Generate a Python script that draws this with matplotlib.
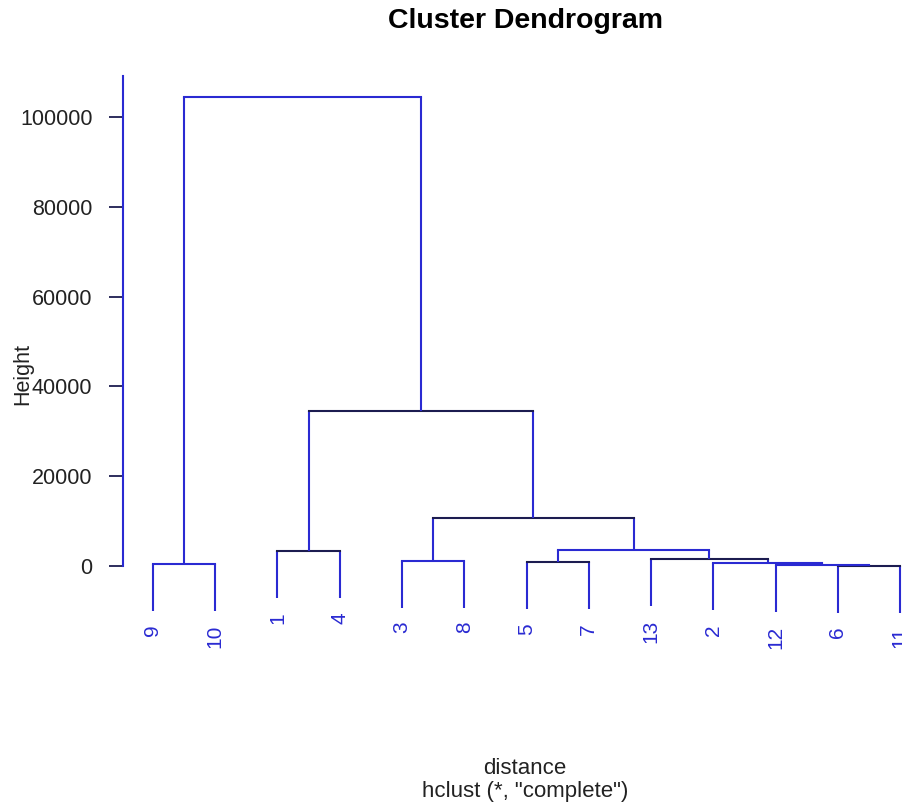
import matplotlib.pyplot as plt

plt.rcParams['font.family'] = ['Liberation Sans', 'DejaVu Sans']

# leaf labels in plotting order (left to right)
leaf_order = ['9', '10', '1', '4', '3', '8', '5', '7', '13', '2', '12', '6', '11']

# merges: (left, right, height); ints refer to earlier merges (0-based)
merges = [
    ('6', '11', 100),
    ('12', 0, 300),
    ('9', '10', 500),
    ('2', 1, 600),
    ('5', '7', 820),
    ('3', '8', 1150),
    ('13', 3, 1480),
    ('1', '4', 3300),
    (4, 6, 3650),
    (5, 8, 10700),
    (7, 9, 34500),
    (2, 10, 104500),
]

yticks = [0, 20000, 40000, 60000, 80000, 100000]

blue = '#2a2ad2'
navy = '#1c1c50'
# colour of the horizontal bar of each merge, as it looks in the picture
bar_colors = [navy, blue, blue, blue, navy, blue, navy, navy, blue, navy, navy, blue]

fig = plt.figure(figsize=(9.02, 8.05), dpi=100)
ax = fig.add_axes([0.1364, 0.2129, 0.8947, 0.6925])

n = len(leaf_order)
max_h = max(m[2] for m in merges)
hang = 0.1 * max_h
leaf_x = {lab: i + 1 for i, lab in enumerate(leaf_order)}
node_x = []

def pos(node):
    if isinstance(node, int):
        return node_x[node], merges[node][2]
    return leaf_x[node], None

for k, (a, b, h) in enumerate(merges):
    xa, ha = pos(a)
    xb, hb = pos(b)
    for x, hh, node in [(xa, ha, a), (xb, hb, b)]:
        if hh is None:
            bottom = h - hang
            ax.plot([x, x], [bottom, h], color=blue, lw=1.5, solid_capstyle='butt')
            ax.annotate(node, (x, bottom), xytext=(0, -10), textcoords='offset points',
                        rotation=90, ha='center', va='top', color=blue, fontsize=15)
        else:
            ax.plot([x, x], [hh, h], color=blue, lw=1.5, solid_capstyle='butt')
    ax.plot([xa, xb], [h, h], color=bar_colors[k], lw=1.5, solid_capstyle='projecting')
    node_x.append((xa + xb) / 2)

pad_x = 0.04 * (n - 1)
ax.set_xlim(1 - pad_x, n + pad_x)
ymin, ymax = -hang, max_h
pad_y = 0.04 * (ymax - ymin)
ax.set_ylim(ymin - pad_y, ymax + pad_y)

for s in ['top', 'right', 'bottom']:
    ax.spines[s].set_visible(False)
ax.spines['left'].set_color(blue)
ax.spines['left'].set_linewidth(1.5)
ax.spines['left'].set_bounds(0, ymax + pad_y)
ax.set_xticks([])
ax.set_yticks(yticks)
ax.set_yticklabels([str(t) for t in yticks])
ax.tick_params(axis='y', length=10, width=1.3, color=navy, pad=12,
               labelsize=15.5, labelcolor='#222222')

fig.text(525 / 902, 1 - 21 / 805, 'Cluster Dendrogram', ha='center', va='center',
         fontsize=20.5, fontweight='bold')
fig.text(23 / 902, 1 - 374 / 805, 'Height', rotation=90, ha='center', va='center',
         fontsize=15.5, color='#222222')
fig.text(525 / 902, 1 - 768 / 805, 'distance', ha='center', va='center',
         fontsize=16, color='#222222')
fig.text(525 / 902, 1 - 791 / 805, 'hclust (*, "complete")', ha='center', va='center',
         fontsize=16, color='#222222')

fig.savefig('out.png', dpi=100)
